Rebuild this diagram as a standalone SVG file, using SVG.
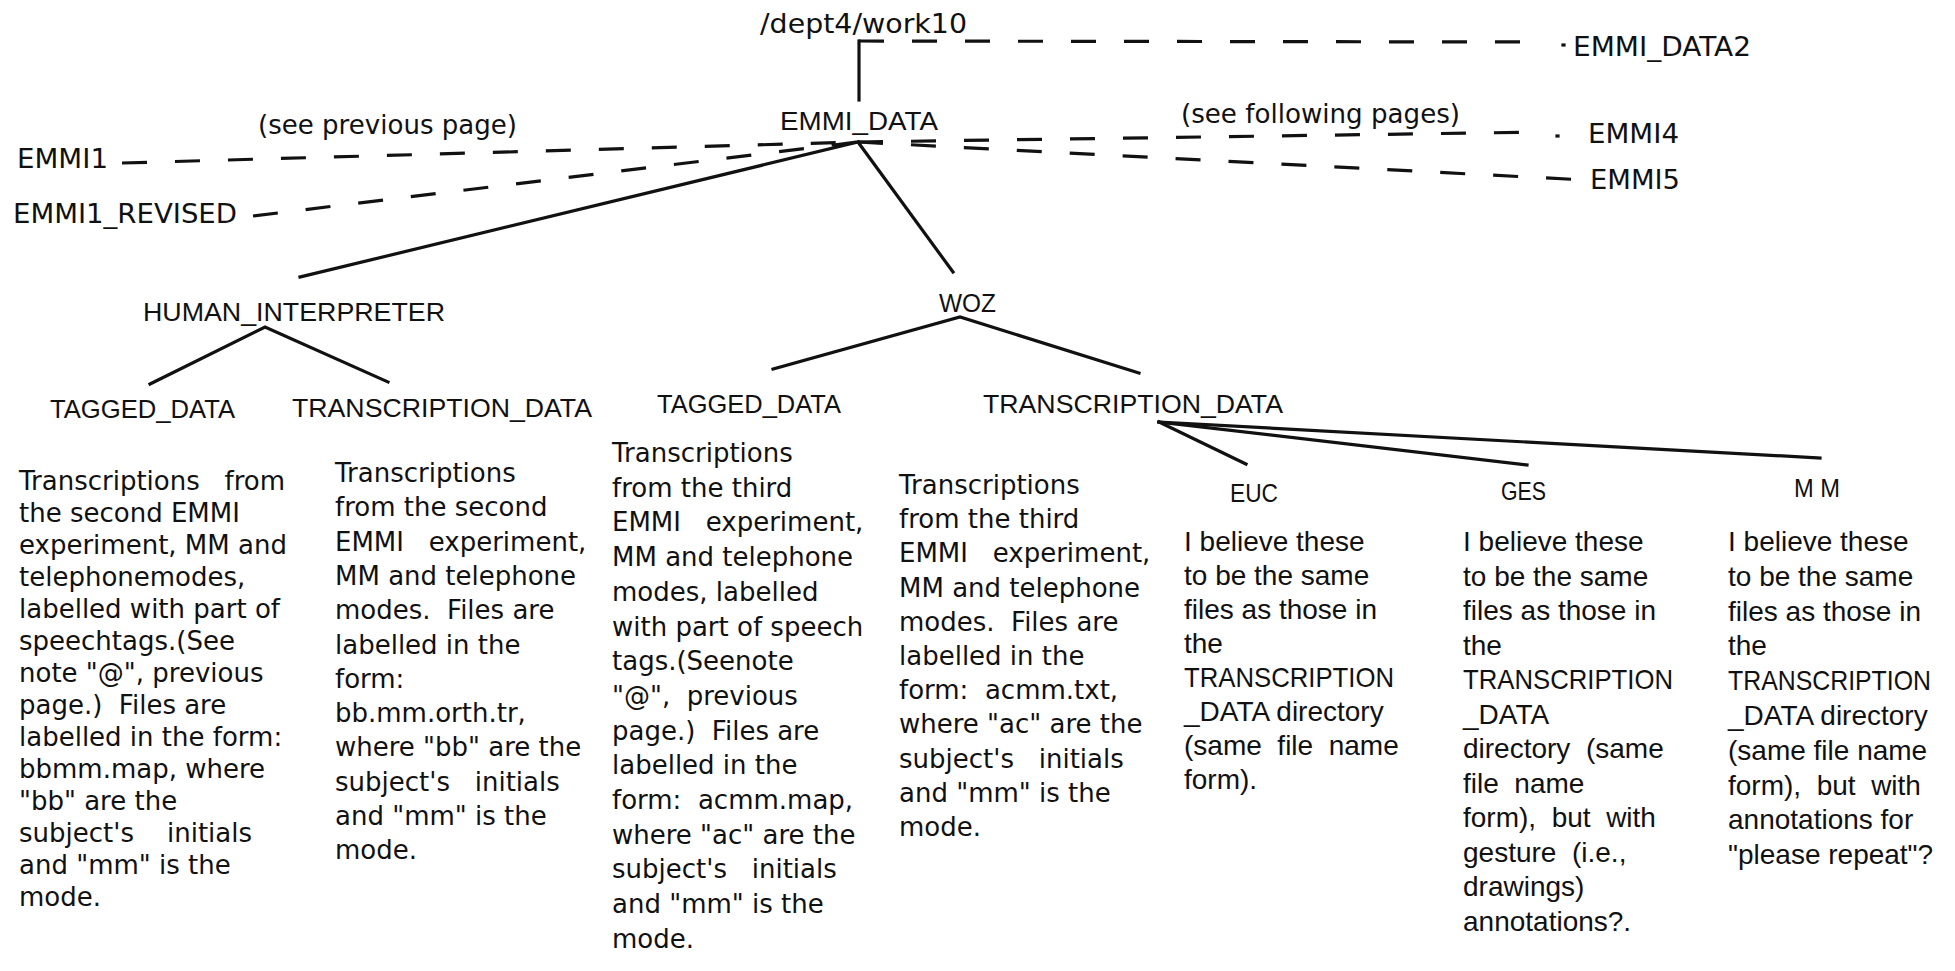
<svg xmlns="http://www.w3.org/2000/svg" width="1955" height="971" viewBox="0 0 1955 971">
<style>
.lbl{font-family:"Liberation Sans",Arial,sans-serif;font-size:26px;fill:#111}
.gen{font-family:"DejaVu Sans",sans-serif;font-size:27px;fill:#111}
.body{font-family:"DejaVu Sans",sans-serif;font-size:26px;fill:#111;white-space:pre}
.cond{font-family:"Liberation Sans",Arial,sans-serif;font-size:28px;fill:#111;white-space:pre}
.solid{stroke:#111;stroke-width:3.2;fill:none;stroke-linecap:square}
.dash{stroke:#111;stroke-width:3.2;fill:none;stroke-dasharray:25 28}
</style>
<rect width="1955" height="971" fill="#fff"/>

<g id="connectors">
  <line class="solid" x1="859" y1="100" x2="859" y2="41"/>
  <line class="dash" x1="859" y1="41" x2="1540" y2="42"/>
  <line class="solid" x1="1563" y1="45" x2="1564" y2="45"/>
  <line class="dash" x1="122" y1="163" x2="858" y2="142"/>
  <line class="dash" x1="253" y1="216" x2="858" y2="142"/>
  <line class="dash" x1="858" y1="142" x2="1545" y2="132"/>
  <line class="solid" x1="1557" y1="136" x2="1558" y2="136"/>
  <line class="dash" x1="858" y1="142" x2="1585" y2="180"/>
  <line class="solid" x1="858" y1="142" x2="300" y2="277"/>
  <line class="solid" x1="858" y1="142" x2="953" y2="272"/>
  <polyline class="solid" points="150,384 265,327 388,382"/>
  <polyline class="solid" points="773,369 960,317 1139,373"/>
  <line class="solid" x1="1159" y1="422" x2="1246" y2="464"/>
  <line class="solid" x1="1159" y1="422" x2="1527" y2="465"/>
  <line class="solid" x1="1159" y1="422" x2="1820" y2="458"/>
</g>

<g id="root"><text class="gen" x="760" y="33" font-size="28" textLength="207" lengthAdjust="spacingAndGlyphs">/dept4/work10</text></g>
<g id="emmi_data2"><text class="gen" x="1573" y="56" textLength="178" lengthAdjust="spacingAndGlyphs">EMMI_DATA2</text></g>
<g id="emmi_data"><text class="lbl" x="780" y="130" font-size="27" textLength="158" lengthAdjust="spacingAndGlyphs">EMMI_DATA</text></g>
<g id="note_prev"><text class="gen" x="258" y="134" font-size="26" textLength="259" lengthAdjust="spacingAndGlyphs">(see previous page)</text></g>
<g id="note_next"><text class="gen" x="1181" y="123" font-size="26" textLength="279" lengthAdjust="spacingAndGlyphs">(see following pages)</text></g>
<g id="emmi1"><text class="gen" x="17" y="168" font-size="28" textLength="91" lengthAdjust="spacingAndGlyphs">EMMI1</text></g>
<g id="emmi1_revised"><text class="gen" x="13" y="223" font-size="27.5" textLength="224" lengthAdjust="spacingAndGlyphs">EMMI1_REVISED</text></g>
<g id="emmi4"><text class="gen" x="1588" y="143" textLength="91" lengthAdjust="spacingAndGlyphs">EMMI4</text></g>
<g id="emmi5"><text class="gen" x="1590" y="189" textLength="90" lengthAdjust="spacingAndGlyphs">EMMI5</text></g>

<g id="human_interpreter"><text class="lbl" x="143" y="321" font-size="27" textLength="302" lengthAdjust="spacingAndGlyphs">HUMAN_INTERPRETER</text></g>
<g id="woz"><text class="lbl" x="939" y="312" font-size="28" textLength="57" lengthAdjust="spacingAndGlyphs">WOZ</text></g>

<g id="hi_tagged">
  <text class="lbl" x="50" y="418" textLength="185" lengthAdjust="spacingAndGlyphs">TAGGED_DATA</text>
  <text class="body" x="19" y="490"><tspan x="19">Transcriptions   from</tspan><tspan x="19" dy="32">the second EMMI</tspan><tspan x="19" dy="32">experiment, MM and</tspan><tspan x="19" dy="32">telephonemodes,</tspan><tspan x="19" dy="32">labelled with part of</tspan><tspan x="19" dy="32">speechtags.(See</tspan><tspan x="19" dy="32">note "@", previous</tspan><tspan x="19" dy="32">page.)  Files are</tspan><tspan x="19" dy="32">labelled in the form:</tspan><tspan x="19" dy="32">bbmm.map, where</tspan><tspan x="19" dy="32">"bb" are the</tspan><tspan x="19" dy="32">subject's    initials</tspan><tspan x="19" dy="32">and "mm" is the</tspan><tspan x="19" dy="32">mode.</tspan></text>
</g>

<g id="hi_transcription">
  <text class="lbl" x="292" y="417" textLength="300" lengthAdjust="spacingAndGlyphs">TRANSCRIPTION_DATA</text>
  <text class="body" x="335" y="482"><tspan x="335">Transcriptions</tspan><tspan x="335" dy="34.3">from the second</tspan><tspan x="335" dy="34.3">EMMI   experiment,</tspan><tspan x="335" dy="34.3">MM and telephone</tspan><tspan x="335" dy="34.3">modes.  Files are</tspan><tspan x="335" dy="34.3">labelled in the</tspan><tspan x="335" dy="34.3">form:</tspan><tspan x="335" dy="34.3">bb.mm.orth.tr,</tspan><tspan x="335" dy="34.3">where "bb" are the</tspan><tspan x="335" dy="34.3">subject's   initials</tspan><tspan x="335" dy="34.3">and "mm" is the</tspan><tspan x="335" dy="34.3">mode.</tspan></text>
</g>

<g id="woz_tagged">
  <text class="lbl" x="657" y="413" textLength="184" lengthAdjust="spacingAndGlyphs">TAGGED_DATA</text>
  <text class="body" x="612" y="462"><tspan x="612">Transcriptions</tspan><tspan x="612" dy="34.7">from the third</tspan><tspan x="612" dy="34.7">EMMI   experiment,</tspan><tspan x="612" dy="34.7">MM and telephone</tspan><tspan x="612" dy="34.7">modes, labelled</tspan><tspan x="612" dy="34.7">with part of speech</tspan><tspan x="612" dy="34.7">tags.(Seenote</tspan><tspan x="612" dy="34.7">"@",  previous</tspan><tspan x="612" dy="34.7">page.)  Files are</tspan><tspan x="612" dy="34.7">labelled in the</tspan><tspan x="612" dy="34.7">form:  acmm.map,</tspan><tspan x="612" dy="34.7">where "ac" are the</tspan><tspan x="612" dy="34.7">subject's   initials</tspan><tspan x="612" dy="34.7">and "mm" is the</tspan><tspan x="612" dy="34.7">mode.</tspan></text>
</g>

<g id="woz_transcription">
  <text class="lbl" x="983" y="413" textLength="300" lengthAdjust="spacingAndGlyphs">TRANSCRIPTION_DATA</text>
  <text class="body" x="899" y="494"><tspan x="899">Transcriptions</tspan><tspan x="899" dy="34.2">from the third</tspan><tspan x="899" dy="34.2">EMMI   experiment,</tspan><tspan x="899" dy="34.2">MM and telephone</tspan><tspan x="899" dy="34.2">modes.  Files are</tspan><tspan x="899" dy="34.2">labelled in the</tspan><tspan x="899" dy="34.2">form:  acmm.txt,</tspan><tspan x="899" dy="34.2">where "ac" are the</tspan><tspan x="899" dy="34.2">subject's   initials</tspan><tspan x="899" dy="34.2">and "mm" is the</tspan><tspan x="899" dy="34.2">mode.</tspan></text>
</g>

<g id="euc">
  <text class="lbl" x="1230" y="502" font-size="25" textLength="48" lengthAdjust="spacingAndGlyphs">EUC</text>
  <text class="cond" x="1184" y="551"><tspan x="1184">I believe these</tspan><tspan x="1184" dy="34">to be the same</tspan><tspan x="1184" dy="34">files as those in</tspan><tspan x="1184" dy="34">the</tspan><tspan x="1184" dy="34" textLength="210" lengthAdjust="spacingAndGlyphs">TRANSCRIPTION</tspan><tspan x="1184" dy="34">_DATA directory</tspan><tspan x="1184" dy="34">(same  file  name</tspan><tspan x="1184" dy="34">form).</tspan></text>
</g>

<g id="ges">
  <text class="lbl" x="1501" y="500" font-size="25" textLength="45" lengthAdjust="spacingAndGlyphs">GES</text>
  <text class="cond" x="1463" y="551"><tspan x="1463">I believe these</tspan><tspan x="1463" dy="34.5">to be the same</tspan><tspan x="1463" dy="34.5">files as those in</tspan><tspan x="1463" dy="34.5">the</tspan><tspan x="1463" dy="34.5" textLength="210" lengthAdjust="spacingAndGlyphs">TRANSCRIPTION</tspan><tspan x="1463" dy="34.5">_DATA</tspan><tspan x="1463" dy="34.5">directory  (same</tspan><tspan x="1463" dy="34.5">file  name</tspan><tspan x="1463" dy="34.5">form),  but  with</tspan><tspan x="1463" dy="34.5">gesture  (i.e.,</tspan><tspan x="1463" dy="34.5">drawings)</tspan><tspan x="1463" dy="34.5">annotations?.</tspan></text>
</g>

<g id="mm">
  <text class="lbl" x="1794" y="497" font-size="25" textLength="46" lengthAdjust="spacingAndGlyphs">M M</text>
  <text class="cond" x="1728" y="551" font-size="26.5"><tspan x="1728">I believe these</tspan><tspan x="1728" dy="34.8">to be the same</tspan><tspan x="1728" dy="34.8">files as those in</tspan><tspan x="1728" dy="34.8">the</tspan><tspan x="1728" dy="34.8" textLength="203" lengthAdjust="spacingAndGlyphs">TRANSCRIPTION</tspan><tspan x="1728" dy="34.8">_DATA directory</tspan><tspan x="1728" dy="34.8">(same file name</tspan><tspan x="1728" dy="34.8">form),  but  with</tspan><tspan x="1728" dy="34.8">annotations for</tspan><tspan x="1728" dy="34.8">"please repeat"?</tspan></text>
</g>
</svg>
